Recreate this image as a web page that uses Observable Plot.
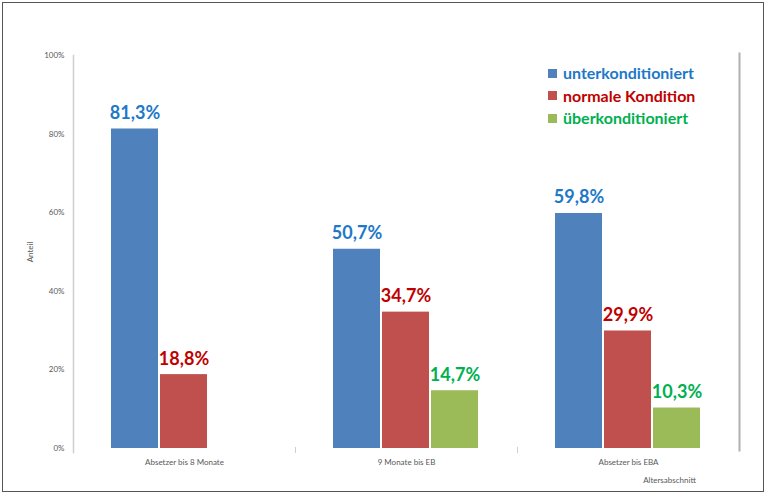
<!DOCTYPE html>
<html><head><meta charset="utf-8">
<script src="https://cdn.jsdelivr.net/npm/d3@7"></script>
<script src="https://cdn.jsdelivr.net/npm/@observablehq/plot@0.6"></script>
<style>
html,body{margin:0;padding:0;background:#fff;}
#wrap{position:relative;width:768px;height:495px;overflow:hidden;font-family:Lato,"Open Sans",sans-serif;}
#border{position:absolute;left:2px;top:2px;width:762px;height:490px;border:1.5px solid #555;box-sizing:border-box;pointer-events:none;}
#legend{position:absolute;left:548px;top:62px;font-weight:bold;font-size:16px;line-height:22.5px;}
#legend div{display:flex;align-items:center;}
#legend span.sw{display:inline-block;width:9px;height:9px;margin-right:6px;}
</style>
</head><body>
<div id="wrap"><div id="chart"></div><div id="legend"></div><div id="border"></div></div>
<script>
const categories = ["Absetzer bis 8 Monate", "9 Monate bis EB", "Absetzer bis EBA"];
const series = ["unterkonditioniert", "normale Kondition", "überkonditioniert"];
const unterkonditioniert = [81.3, 50.7, 59.8];
const normaleKondition = [18.8, 34.7, 29.9];
const ueberkonditioniert = [null, 14.7, 10.3];
const barColors = ["#4F81BD", "#C0504D", "#9BBB59"];
const textColors = ["#1E78C8", "#C00000", "#00B050"];
const yTicks = [0, 20, 40, 60, 80, 100];
const yLabel = "Anteil";
const xLabel = "Altersabschnitt";

const seriesValues = [unterkonditioniert, normaleKondition, ueberkonditioniert];
const data = [];
categories.forEach((c, i) => {
  series.forEach((s, j) => {
    const v = seriesValues[j][i];
    if (v != null) data.push({cat: c, ser: s, value: v / 100, si: j});
  });
});
const fmt = v => (v * 100).toFixed(1).replace(".", ",") + "%";

const chart = Plot.plot({
  width: 768, height: 495,
  marginLeft: 72, marginRight: 28, marginTop: 55, marginBottom: 47,
  style: {fontFamily: "Lato, 'Open Sans', sans-serif", background: "transparent"},
  fx: {domain: categories, padding: 0, label: null},
  x: {domain: series, paddingInner: 0.04, paddingOuter: 0.75, axis: null},
  y: {domain: [0, 1]},
  color: {domain: series, range: barColors},
  marks: [
    Plot.frame({anchor: "left", facet: "super", stroke: "#cfcfcf", strokeWidth: 1.5, insetBottom: -4}),
    Plot.frame({anchor: "right", facet: "super", stroke: "#b0b0b0", strokeWidth: 2, insetTop: -2, insetBottom: -2}),
    Plot.frame({anchor: "left", stroke: "#cfcfcf", insetTop: 392, insetBottom: -4}),
    Plot.axisY({ticks: yTicks.map(t => t / 100), tickFormat: d => Math.round(d * 100) + "%", tickSize: 0, tickPadding: 9, fontSize: 8, color: "#595959", label: yLabel, labelAnchor: "center", labelOffset: 46, labelArrow: "none"}),
    Plot.axisFx({anchor: "bottom", tickSize: 0, tickPadding: 11, fontSize: 8, color: "#595959", label: null}),
    Plot.barY(data, {fx: "cat", x: "ser", y: "value", fill: "ser"}),
    Plot.text(data, {fx: "cat", x: "ser", y: "value", text: d => fmt(d.value), fill: d => textColors[d.si], fontWeight: "bold", fontSize: 18, lineAnchor: "bottom", dy: -10}),
    Plot.text([xLabel], {facet: "super", frameAnchor: "bottom-right", text: d => d, dx: -70, dy: 34, fontSize: 8, fill: "#595959", textAnchor: "middle"})
  ]
});
document.getElementById("chart").appendChild(chart);

const legend = document.getElementById("legend");
series.forEach((s, i) => {
  const row = document.createElement("div");
  const sw = document.createElement("span");
  sw.className = "sw"; sw.style.background = barColors[i];
  const t = document.createElement("span");
  t.textContent = s; t.style.color = textColors[i];
  row.appendChild(sw); row.appendChild(t);
  legend.appendChild(row);
});
</script>
</body></html>
